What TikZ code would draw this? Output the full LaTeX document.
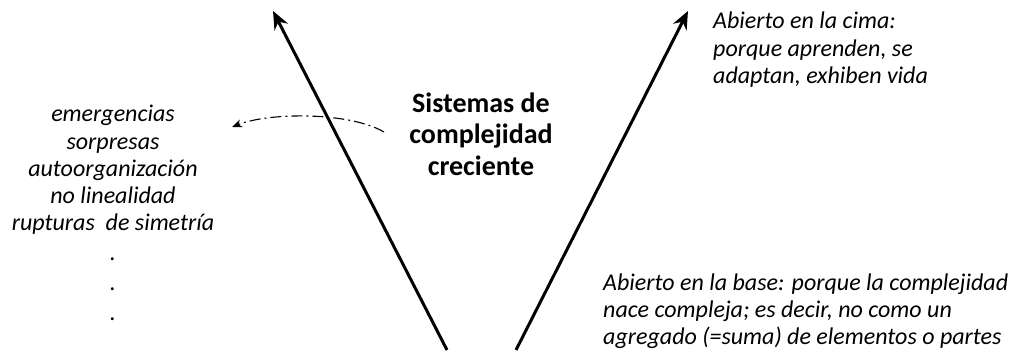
\documentclass[tikz,border=0pt]{standalone}
\usepackage{fontspec}
\setmainfont{Carlito}
\usetikzlibrary{arrows.meta}

\begin{document}
\begin{tikzpicture}[x=1pt,y=-1pt,
    eje/.style={line width=3pt,-{Stealth[length=18pt,width=15pt,inset=6pt]}},
    nota/.style={font=\fontsize{24}{27.3}\selectfont\itshape,inner sep=0pt},
    titulo/.style={font=\fontsize{28}{31.5}\selectfont\bfseries,align=center,inner sep=0pt}]
      \useasboundingbox (0,0) rectangle (1010,352);

      % los dos ejes
      \coordinate (baseizq) at (447,350);
      \coordinate (cimaizq) at (273,11);
      \coordinate (baseder) at (516,350);
      \coordinate (cimader) at (688,11);

      \draw[eje] (baseizq) -- (cimaizq);
      \draw[eje] (baseder) -- (cimader);


      \node[titulo] (sistemas) at (481,134) {Sistemas de\\complejidad\\creciente};


      \node[nota,align=center,anchor=north] (lista) at (113,105)
        {emergencias\\sorpresas\\autoorganizaci\'on\\no linealidad\\rupturas\ \ de simetr\'ia\\[2.5pt]
         .\\[2.5pt] .\\[2.5pt] .};

      \coordinate (salida) at (384,132);
      \coordinate (llegada) at (232,127);
      \draw[line width=1.1pt,dash pattern=on 11pt off 4pt on 2pt off 4pt,
        -{Stealth[length=10pt,width=8pt]}]
        (salida) .. controls (350,112) and (270,112) .. (llegada);


      \node[nota,align=left,anchor=north west] (cima) at (713,12)
        {Abierto en la cima:\\porque aprenden, se\\adaptan, exhiben vida};

      \node[nota,align=left,anchor=north west] (base) at (603,273.5)
        {Abierto en la base: porque la complejidad\\nace compleja; es decir, no como un\\agregado (=suma) de elementos o partes};
    \end{tikzpicture}
\end{document}
